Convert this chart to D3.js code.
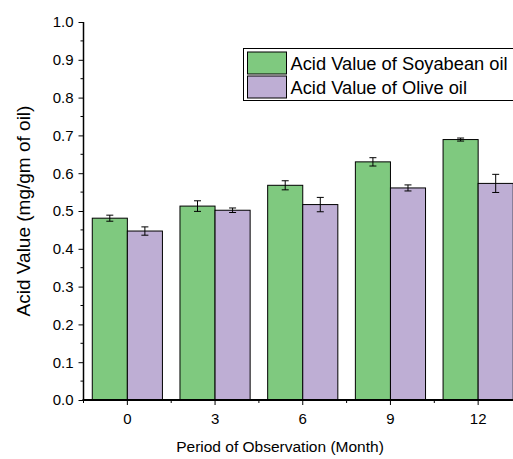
<html>
<head>
<script src="https://d3js.org/d3.v7.min.js"></script>
<style>
body { margin: 0; background: #fff; }
text { font-family: "Liberation Sans", Arial, sans-serif; }
</style>
</head>
<body>
<script>
var months = ["0", "3", "6", "9", "12"];
var soyValues = [0.481, 0.513, 0.568, 0.630, 0.689];
var soyErrors = [0.008, 0.014, 0.012, 0.011, 0.004];
var oliveValues = [0.447, 0.502, 0.517, 0.561, 0.573];
var oliveErrors = [0.011, 0.006, 0.019, 0.008, 0.024];
var yTicks = [0, 0.1, 0.2, 0.3, 0.4, 0.5, 0.6, 0.7, 0.8, 0.9, 1.0];
var seriesNames = ["Acid Value of Soyabean oil", "Acid Value of Olive oil"];
var colors = ["#7fc97f", "#beaed4"];

var width = 513, height = 459;
var mLeft = 83.5, mTop = 22, mBottom = 400, mRight = 522;

var svg = d3.select("body").append("svg")
  .attr("width", width).attr("height", height);

var x = d3.scaleBand().domain(months).range([mLeft, mRight]);
var y = d3.scaleLinear().domain([0, 1]).range([mBottom, mTop]);

var series = [
  { name: seriesNames[0], values: soyValues, errors: soyErrors, color: colors[0], side: -1 },
  { name: seriesNames[1], values: oliveValues, errors: oliveErrors, color: colors[1], side: 0 }
];
var barW = x.bandwidth() * 0.4;

// bars
series.forEach(function(s) {
  var g = svg.append("g");
  g.selectAll("rect")
    .data(months)
    .enter().append("rect")
      .attr("x", function(d) { return x(d) + x.bandwidth() / 2 + s.side * barW; })
      .attr("y", function(d, i) { return y(s.values[i]); })
      .attr("width", barW)
      .attr("height", function(d, i) { return y(0) - y(s.values[i]); })
      .attr("fill", s.color)
      .attr("stroke", "#000")
      .attr("stroke-width", 1);

  // error bars
  var eb = g.selectAll("g.err")
    .data(months)
    .enter().append("g")
      .attr("stroke", "#000")
      .attr("stroke-width", 1);
  eb.each(function(d, i) {
    var cx = x(d) + x.bandwidth() / 2 + s.side * barW + barW / 2;
    var lo = y(s.values[i] - s.errors[i]);
    var hi = y(s.values[i] + s.errors[i]);
    var e = d3.select(this);
    e.append("line").attr("x1", cx).attr("x2", cx).attr("y1", lo).attr("y2", hi);
    e.append("line").attr("x1", cx - 3.5).attr("x2", cx + 3.5).attr("y1", lo).attr("y2", lo);
    e.append("line").attr("x1", cx - 3.5).attr("x2", cx + 3.5).attr("y1", hi).attr("y2", hi);
  });
});

// y axis
var yAxis = svg.append("g")
  .attr("transform", "translate(" + mLeft + ",0)")
  .call(d3.axisLeft(y).tickValues(yTicks).tickFormat(d3.format(".1f")).tickSize(5).tickPadding(5));
yAxis.select(".domain").attr("stroke-width", 1.5).attr("d", "M0," + mTop + "V" + mBottom);
yAxis.selectAll("text").attr("font-size", 15).attr("fill", "#000")
  .attr("font-family", "Liberation Sans, Arial, sans-serif");
var yMinor = yTicks.slice(0, -1).map(function(d) { return d + 0.05; });
yAxis.selectAll("line.minor")
  .data(yMinor)
  .enter().append("line")
    .attr("class", "minor")
    .attr("x1", -3).attr("x2", 0)
    .attr("y1", function(d) { return y(d); })
    .attr("y2", function(d) { return y(d); })
    .attr("stroke", "#000");

// x axis
var xAxis = svg.append("g")
  .attr("transform", "translate(0," + mBottom + ")")
  .call(d3.axisBottom(x).tickSize(5).tickPadding(8));
xAxis.select(".domain").attr("stroke-width", 2).attr("d", "M" + (mLeft - 1) + ",0H" + mRight);
xAxis.selectAll("text").attr("font-size", 15).attr("fill", "#000")
  .attr("font-family", "Liberation Sans, Arial, sans-serif");
xAxis.selectAll("line.minor")
  .data(months)
  .enter().append("line")
    .attr("class", "minor")
    .attr("x1", function(d) { return x(d); })
    .attr("x2", function(d) { return x(d); })
    .attr("y1", 0).attr("y2", 3)
    .attr("stroke", "#000");

// axis titles
svg.append("text")
  .attr("transform", "translate(30,211) rotate(-90)")
  .attr("text-anchor", "middle")
  .attr("font-size", 19)
  .text("Acid Value (mg/gm of oil)");
svg.append("text")
  .attr("x", 280).attr("y", 452)
  .attr("text-anchor", "middle")
  .attr("font-size", 15.5)
  .text("Period of Observation (Month)");

// legend
var legend = svg.append("g").attr("transform", "translate(243.5,48.5)");
legend.append("rect")
  .attr("x", 0).attr("y", 0).attr("width", 280).attr("height", 52)
  .attr("fill", "#fff").attr("stroke", "#000").attr("stroke-width", 1);
series.forEach(function(s, i) {
  legend.append("rect")
    .attr("x", 4).attr("y", 3.5 + i * 24)
    .attr("width", 39).attr("height", 22)
    .attr("fill", s.color).attr("stroke", "#000").attr("stroke-width", 1);
  legend.append("text")
    .attr("x", 47).attr("y", 21 + i * 24)
    .attr("font-size", 18.3)
    .text(s.name);
});
</script>
</body>
</html>
